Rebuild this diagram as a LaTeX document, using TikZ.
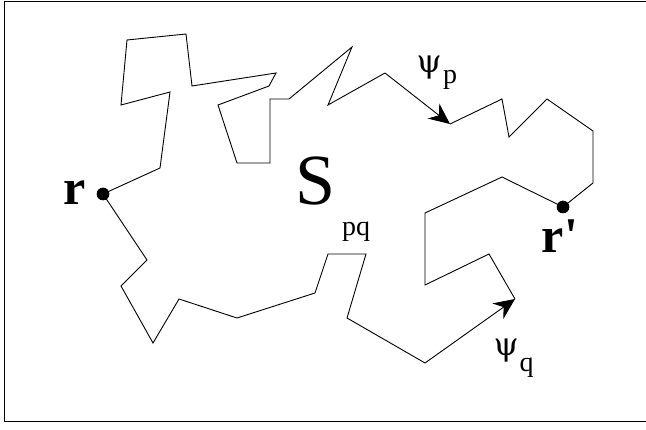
\documentclass[tikz,border=0pt]{standalone}
\usepackage{fontspec}
\setmainfont{Liberation Serif}
\newfontfamily\greekfont{DejaVu Serif}
\usetikzlibrary{arrows.meta}

\begin{document}
\begin{tikzpicture}[x=1pt, y=-1pt, line join=miter,
    frame/.style={line width=1pt},
    walk/.style={line width=0.9pt},
    flow/.style={walk, -{Stealth[length=21pt, width=19pt, inset=7pt]}},
    dot/.style={circle, fill, inner sep=0pt, minimum size=12.5pt},
    lbl/.style={inner sep=0pt, anchor=base},
    big/.style={lbl, font=\fontsize{50}{50}\selectfont\bfseries},
    psi/.style={lbl, font=\greekfont\fontsize{32}{32}\selectfont},
    sub/.style={lbl, font=\fontsize{28}{28}\selectfont}]
  \useasboundingbox (0,0) rectangle (646,430);

  % frame (open on the right)
  \coordinate (f1) at (660,2);
  \coordinate (f2) at (4.5,2);
  \coordinate (f3) at (4.5,421.5);
  \coordinate (f4) at (660,421.5);
  \draw[frame] (f1) -- (f2) -- (f3) -- (f4);

  % end points
  \node[dot] (r)  at (103,194) {};
  \node[dot] (rp) at (563,207) {};

  % upper walk (psi_p)
  \coordinate (a1)  at (160,168);
  \coordinate (a2)  at (170,92);
  \coordinate (a3)  at (121,105);
  \coordinate (a4)  at (127,40);
  \coordinate (a5)  at (186,34);
  \coordinate (a6)  at (192,86);
  \coordinate (a7)  at (276,73);
  \coordinate (a8)  at (269,86);
  \coordinate (a9)  at (218,105);
  \coordinate (a10) at (237,163);
  \coordinate (a11) at (270,163);
  \coordinate (a12) at (270,99);
  \coordinate (a13) at (289,99);
  \coordinate (a14) at (352,47);
  \coordinate (a15) at (328,105);
  \coordinate (a16) at (385,73);
  \coordinate (a17) at (450,124);
  \coordinate (a18) at (502,99);
  \coordinate (a19) at (509,137);
  \coordinate (a20) at (547,99);
  \coordinate (a21) at (593,131);
  \coordinate (a22) at (593,183);

  \draw[walk] (r.center) -- (a1) -- (a2) -- (a3) -- (a4) -- (a5) -- (a6) -- (a7)
    -- (a8) -- (a9) -- (a10) -- (a11) -- (a12) -- (a13) -- (a14) -- (a15) -- (a16);
  \draw[flow] (a16) -- (a17);
  \draw[walk] (a17) -- (a18) -- (a19) -- (a20) -- (a21) -- (a22) -- (rp.center);

  % lower walk (psi_q)
  \coordinate (b1)  at (147,260);
  \coordinate (b2)  at (121,286);
  \coordinate (b3)  at (153,343);
  \coordinate (b4)  at (179,299);
  \coordinate (b5)  at (237,318);
  \coordinate (b6)  at (315,293);
  \coordinate (b7)  at (328,254);
  \coordinate (b8)  at (366,254);
  \coordinate (b9)  at (347,318);
  \coordinate (b10) at (425,363);
  \coordinate (b11) at (515,299);
  \coordinate (b12) at (489,254);
  \coordinate (b13) at (425,285);
  \coordinate (b14) at (425,213);
  \coordinate (b15) at (502,177);

  \draw[walk] (r.center) -- (b1) -- (b2) -- (b3) -- (b4) -- (b5) -- (b6) -- (b7)
    -- (b8) -- (b9) -- (b10);
  \draw[flow] (b10) -- (b11);
  \draw[walk] (b11) -- (b12) -- (b13) -- (b14) -- (b15) -- (rp.center);

  % dots on top of the walks
  \fill (r) circle[radius=6.25pt];
  \fill (rp) circle[radius=6.25pt];

  % labels
  \node[big] (rlab) at (75,205) {r};
  \node[big] (rplab) at (560,252.5) {r\textquotesingle};
  \node[lbl, font=\fontsize{72}{72}\selectfont] (S) at (315.5,205) {S};
  \node[sub] (pq) at (356,236) {pq};
  \node[psi, anchor=base east] (psip) at (442,73) {ψ};
  \node[sub, anchor=base west] (p) at (443,83.5) {p};
  \node[psi, anchor=base east] (psiq) at (519,356) {ψ};
  \node[sub, anchor=base west] (q) at (519.5,372) {q};
\end{tikzpicture}
\end{document}
